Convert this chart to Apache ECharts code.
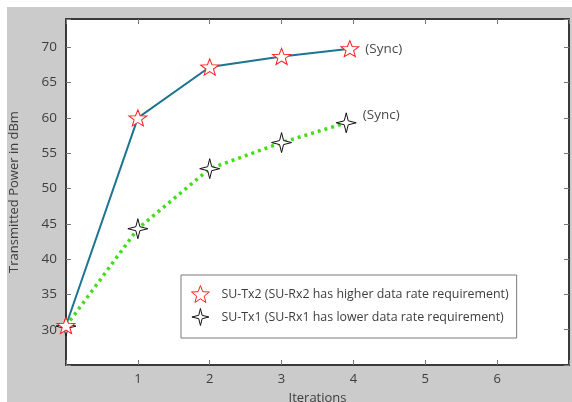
<!DOCTYPE html>
<html>
<head>
<meta charset="utf-8">
<script src="https://cdn.jsdelivr.net/npm/echarts@6/dist/echarts.min.js"></script>
<style>
  html, body { margin: 0; padding: 0; background: #ffffff; }
  #chart { width: 572px; height: 402px; }
</style>
</head>
<body>
<div id="chart"></div>
<script>
// Iteration index and transmitted power (dBm) per secondary user
const txHighIter = [0, 1, 2, 3, 3.95];
const txHighPower = [30.6, 60.0, 67.2, 68.7, 69.8];
const txLowIter = [0, 1, 2, 3, 3.9];
const txLowPower = [30.5, 44.3, 52.8, 56.5, 59.3];

const seriesNames = [
  'SU-Tx2 (SU-Rx2 has higher data rate requirement)',
  'SU-Tx1 (SU-Rx1 has lower data rate requirement)'
];
const endNote = '(Sync)';
const xTicks = [1, 2, 3, 4, 5, 6];
const yTicks = [30, 35, 40, 45, 50, 55, 60, 65, 70];

const star5 = 'path://M10 0 L12.47 6.6 L19.51 6.91 L13.99 11.3 L15.88 18.09 L10 14.2 L4.12 18.09 L6.01 11.3 L0.49 6.91 L7.53 6.6 Z';
const star4 = 'path://M10 0 L12 8 L20 10 L12 12 L10 20 L8 12 L0 10 L8 8 Z';

const textColor = '#3d3d3d';
const frameColor = '#3a3a3a';
const fontFamily = '"Open Sans", "Noto Sans", sans-serif';

function pairs(xs, ys, noteOffset) {
  return xs.map((x, i) => {
    const d = { value: [x, ys[i]] };
    if (i === xs.length - 1) {
      d.label = {
        show: true, formatter: endNote, position: 'right', distance: 6,
        offset: noteOffset,
        color: '#4a4a4a', fontSize: 13.5, fontFamily: fontFamily
      };
    }
    return d;
  });
}

const chart = echarts.init(document.getElementById('chart'));

const tickSet = (arr) => (v) => arr.indexOf(Math.round(v * 1000) / 1000) >= 0 ? String(v) : '';

chart.setOption({
  animation: false,
  backgroundColor: '#ffffff',
  graphic: [{
    type: 'rect', z: -10, silent: true,
    shape: { x: 7, y: 7, width: 565, height: 395 },
    style: { fill: '#cbcbcb' }
  }],
  grid: {
    left: 66, top: 19, right: 3, bottom: 37,
    outerBoundsMode: 'none', containLabel: false,
    show: true, backgroundColor: '#ffffff', borderWidth: 0
  },
  legend: {
    orient: 'vertical',
    left: 181, top: 275,
    padding: [10, 8, 12, 10],
    itemGap: 5,
    itemWidth: 18, itemHeight: 17,
    backgroundColor: '#ffffff',
    borderColor: '#7a7a7a', borderWidth: 1,
    textStyle: { color: '#3d3d3d', fontSize: 12.4, fontFamily: fontFamily, padding: [0, 0, 0, 7] },
    data: [
      { name: seriesNames[0], icon: star5, itemStyle: { color: '#ffffff', borderColor: '#ff2020', borderWidth: 1 } },
      { name: seriesNames[1], icon: star4, itemStyle: { color: '#ffffff', borderColor: '#111111', borderWidth: 1 } }
    ]
  },
  xAxis: [{
    type: 'value', min: 0, max: 7, interval: 1,
    name: 'Iterations', nameLocation: 'middle', nameGap: 27,
    nameTextStyle: { color: textColor, fontSize: 13, fontFamily: fontFamily },
    axisLine: { show: true, onZero: false, lineStyle: { color: frameColor, width: 2 } },
    axisTick: { show: true, inside: true, length: 5, lineStyle: { color: '#777' } },
    axisLabel: { color: textColor, fontSize: 13, fontFamily: fontFamily, margin: 8, formatter: tickSet(xTicks) },
    splitLine: { show: false }
  }, {
    type: 'value', min: 0, max: 7, interval: 1, position: 'top',
    axisLine: { show: true, onZero: false, lineStyle: { color: frameColor, width: 2 } },
    axisTick: { show: true, inside: true, length: 5, lineStyle: { color: '#777' } },
    axisLabel: { show: false },
    splitLine: { show: false }
  }],
  yAxis: [{
    type: 'value', min: 25, max: 74, interval: 5,
    name: 'Transmitted Power in dBm', nameLocation: 'middle', nameGap: 45,
    nameTextStyle: { color: textColor, fontSize: 13, fontFamily: fontFamily },
    axisLine: { show: true, onZero: false, lineStyle: { color: frameColor, width: 2 } },
    axisTick: { show: true, inside: true, length: 5, lineStyle: { color: '#777' } },
    axisLabel: { color: textColor, fontSize: 13.5, fontFamily: fontFamily, margin: 9, formatter: tickSet(yTicks) },
    splitLine: { show: false }
  }, {
    type: 'value', min: 25, max: 74, interval: 5, position: 'right',
    axisLine: { show: true, onZero: false, lineStyle: { color: frameColor, width: 2 } },
    axisTick: { show: true, inside: true, length: 5, lineStyle: { color: '#777' } },
    axisLabel: { show: false },
    splitLine: { show: false }
  }],
  series: [{
    name: seriesNames[0],
    type: 'line',
    data: pairs(txHighIter, txHighPower, [0, 0]),
    symbol: star5, symbolSize: [18, 17], symbolKeepAspect: true,
    showAllSymbol: true,
    lineStyle: { color: '#1c7590', width: 2 },
    itemStyle: { color: '#ffffff', borderColor: '#ff2020', borderWidth: 1 },
    z: 3
  }, {
    name: seriesNames[1],
    type: 'line',
    data: pairs(txLowIter, txLowPower, [0, -8]),
    symbol: star4, symbolSize: 20,
    showAllSymbol: true,
    lineStyle: { color: '#44dd1c', width: 3.5, type: [3, 4] },
    itemStyle: { color: '#ffffff', borderColor: '#111111', borderWidth: 1 },
    z: 2
  }]
});
</script>
</body>
</html>
